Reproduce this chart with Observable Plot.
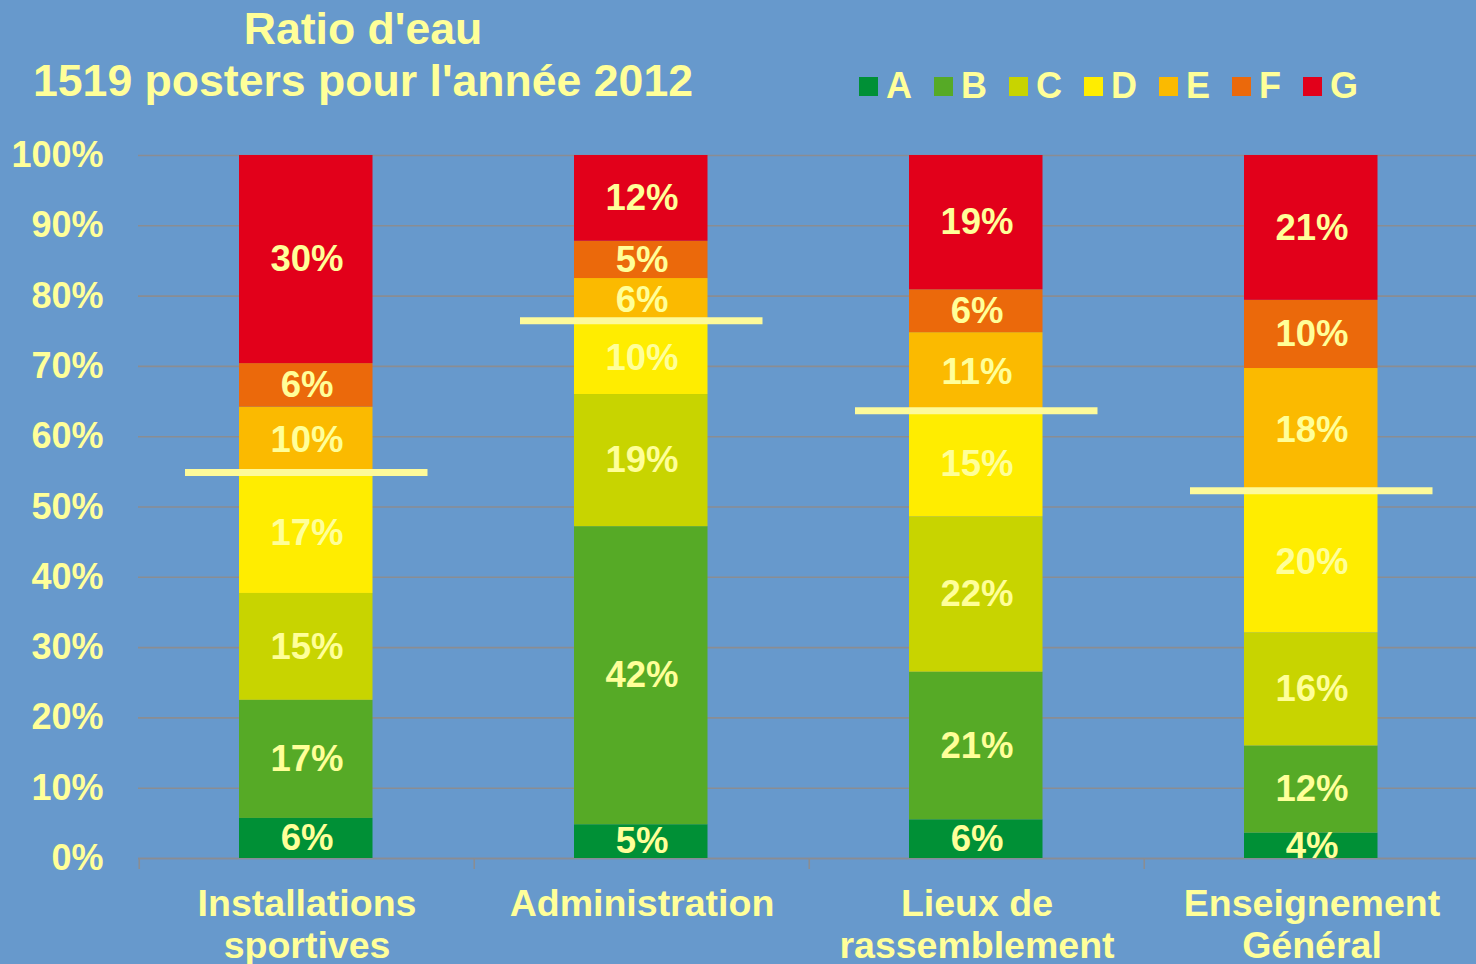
<!DOCTYPE html>
<html><head><meta charset="utf-8">
<script src="https://cdn.jsdelivr.net/npm/d3@7"></script>
<script src="https://cdn.jsdelivr.net/npm/@observablehq/plot@0.6"></script>
<style>
html,body{margin:0;padding:0;background:#6799cc;overflow:hidden;width:1476px;height:964px}
#wrap{position:relative;width:1476px;height:964px;font-family:"Liberation Sans",Arial,sans-serif;font-weight:bold;color:#ffff99;overflow:hidden}
#title{position:absolute;left:0;top:3px;width:726px;text-align:center;font-size:44.6px;line-height:52px}
#legend{position:absolute;left:859px;top:68px;display:flex;align-items:center;font-size:36px;line-height:36px}
.item{display:flex;align-items:center;margin-right:22px}
.sw{width:19px;height:19px;margin-right:8px}
#chart{position:absolute;left:0;top:130px;width:1480px}
</style></head>
<body><div id="wrap">
<div id="title">Ratio d'eau<br>1519 posters pour l'année 2012</div>
<div id="legend"></div>
<div id="chart"></div>
</div>
<script>
const categories = ["Installations sportives", "Administration", "Lieux de rassemblement", "Enseignement Général"];
const categoryLabels = ["Installations\nsportives", "Administration", "Lieux de\nrassemblement", "Enseignement\nGénéral"];
const classes = ["A", "B", "C", "D", "E", "F", "G"];
const colors = ["#009036", "#56aa26", "#c8d400", "#ffed00", "#fbba00", "#eb690b", "#e2001a"];
const shareA = [5.7, 4.8, 5.5, 3.6];
const shareB = [16.8, 42.4, 21.0, 12.4];
const shareC = [15.2, 18.8, 22.1, 16.1];
const shareD = [17.0, 10.3, 15.0, 20.1];
const shareE = [9.5, 6.2, 11.2, 17.5];
const shareF = [6.2, 5.3, 6.1, 9.7];
const shareG = [29.6, 12.2, 19.1, 20.6];
const thresholdLine = [54.9, 76.5, 63.7, 52.3];
const yTicks = [0, 10, 20, 30, 40, 50, 60, 70, 80, 90, 100];

const series = [shareA, shareB, shareC, shareD, shareE, shareF, shareG];
const rows = classes.flatMap((c, i) => categories.map((cat, j) => ({category: cat, cls: c, value: series[i][j]})));
const lines = categories.map((cat, j) => ({category: cat, value: thresholdLine[j]}));

// legend
const legend = document.getElementById("legend");
classes.forEach((c, i) => {
  const it = document.createElement("div"); it.className = "item";
  const sw = document.createElement("div"); sw.className = "sw"; sw.style.background = colors[i];
  const t = document.createElement("span"); t.textContent = c;
  it.appendChild(sw); it.appendChild(t); legend.appendChild(it);
});

const W = 1480, ML = 138, MR = 0;
const band = (W - ML - MR) / categories.length;
const gridColor = "#8a8d92";
const txt = "#ffff99";

const chart = Plot.plot({
  width: W, height: 834,
  marginTop: 25, marginBottom: 106, marginLeft: ML, marginRight: MR,
  style: {background: "transparent", fontFamily: '"Liberation Sans", Arial, sans-serif', fontWeight: "bold", color: txt, overflow: "visible", maxWidth: "none"},
  x: {domain: categories, padding: 0, label: null},
  y: {domain: [0, 100], label: null},
  color: {domain: classes, range: colors},
  marks: [
    Plot.gridY(yTicks, {stroke: gridColor, strokeOpacity: 1, strokeWidth: 1.6}),
    Plot.ruleY([0], {stroke: gridColor, strokeWidth: 1.6}),
    Plot.ruleX(categories, {x: d => d, y1: 0, y2: 0, insetBottom: -11, dx: -band / 2, stroke: gridColor, strokeWidth: 1.6}),
    Plot.axisY(yTicks, {tickSize: 0, tickPadding: 35, tickFormat: d => d + "%", fontSize: 36, fill: txt}),
    Plot.axisX({tickSize: 0, tickPadding: 27, tickFormat: d => categoryLabels[categories.indexOf(d)], fontSize: 37.5, lineHeight: 1.13, fill: txt}),
    Plot.barY(rows, {x: "category", y: "value", fill: "cls", insetLeft: 100, insetRight: 101.5}),
    Plot.text(rows, Plot.stackY({x: "category", y: "value", z: "cls", text: d => Math.round(d.value) + "%", fill: txt, fontSize: 36.5, fontWeight: "bold"})),
    Plot.tickY(lines, {x: "category", y: "value", stroke: "#fdfa9a", strokeWidth: 7, insetLeft: 46, insetRight: 46.5})
  ]
});
document.getElementById("chart").appendChild(chart);
</script>
</body></html>
